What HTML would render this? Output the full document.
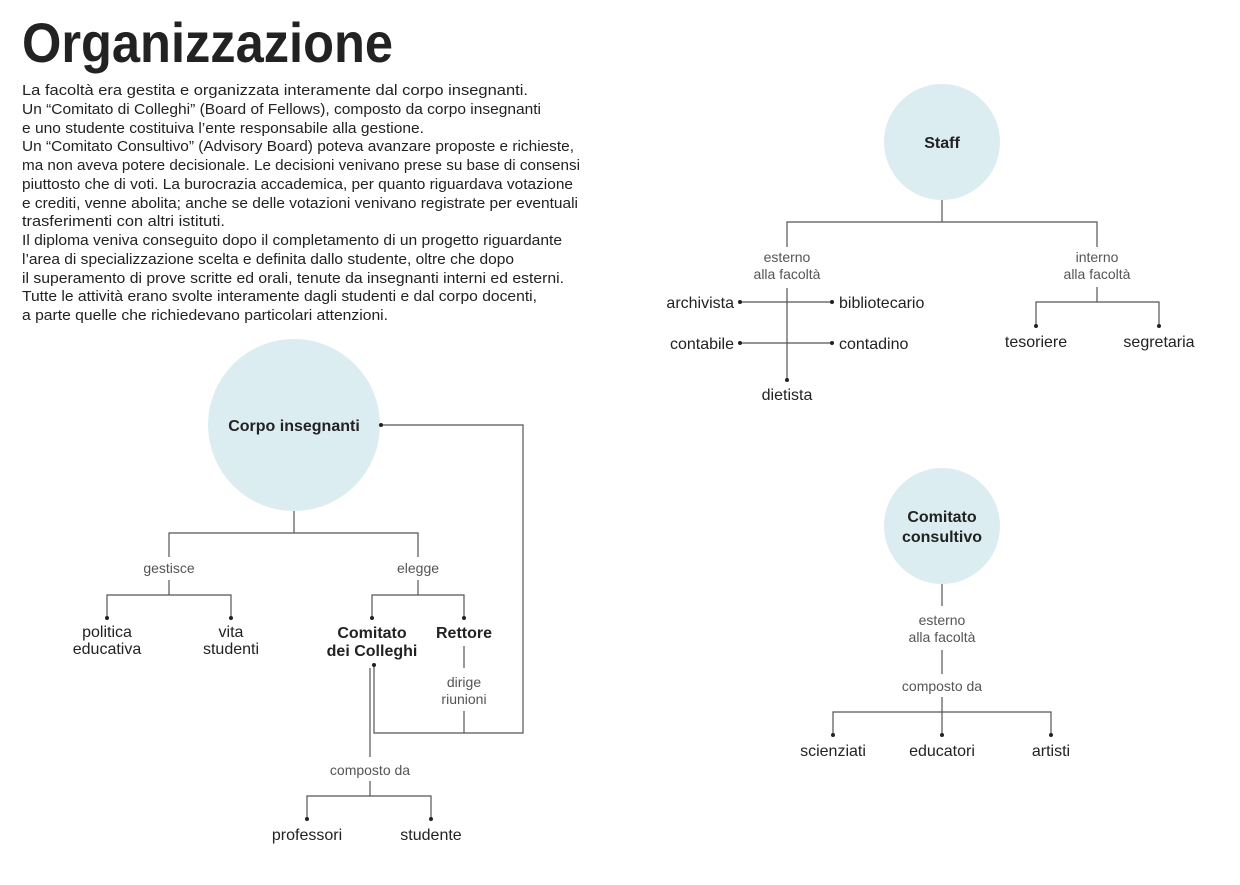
<!DOCTYPE html>
<html><head><meta charset="utf-8"><style>
html,body{margin:0;padding:0;background:#fff;}
svg{display:block;font-family:"Liberation Sans",sans-serif;}
.b{font-size:14.5px;fill:#222;}
.l{font-size:14px;fill:#555;text-anchor:middle;}
.n{font-size:16px;fill:#222;text-anchor:middle;}
.nb{font-size:16px;fill:#222;text-anchor:middle;font-weight:bold;}
line,polyline{stroke:#555;stroke-width:1.2;fill:none;}
circle.d{fill:#222;}
circle.c{fill:#dcedf2;}
</style></head><body>
<svg width="1240" height="885" viewBox="0 0 1240 885">
<text x="22" y="62" font-size="56" font-weight="bold" fill="#222" textLength="371" lengthAdjust="spacingAndGlyphs">Organizzazione</text>
<g class="b">
<text x="22" y="95" textLength="506" lengthAdjust="spacingAndGlyphs">La facoltà era gestita e organizzata interamente dal corpo insegnanti.</text>
<text x="22" y="114" textLength="519" lengthAdjust="spacingAndGlyphs">Un “Comitato di Colleghi” (Board of Fellows), composto da corpo insegnanti</text>
<text x="22" y="133" textLength="402" lengthAdjust="spacingAndGlyphs">e uno studente costituiva l’ente responsabile alla gestione.</text>
<text x="22" y="151" textLength="552" lengthAdjust="spacingAndGlyphs">Un “Comitato Consultivo” (Advisory Board) poteva avanzare proposte e richieste,</text>
<text x="22" y="170" textLength="558" lengthAdjust="spacingAndGlyphs">ma non aveva potere decisionale. Le decisioni venivano prese su base di consensi</text>
<text x="22" y="189" textLength="551" lengthAdjust="spacingAndGlyphs">piuttosto che di voti. La burocrazia accademica, per quanto riguardava votazione</text>
<text x="22" y="208" textLength="556" lengthAdjust="spacingAndGlyphs">e crediti, venne abolita; anche se delle votazioni venivano registrate per eventuali</text>
<text x="22" y="226" textLength="203" lengthAdjust="spacingAndGlyphs">trasferimenti con altri istituti.</text>
<text x="22" y="245" textLength="540" lengthAdjust="spacingAndGlyphs">Il diploma veniva conseguito dopo il completamento di un progetto riguardante</text>
<text x="22" y="264" textLength="492" lengthAdjust="spacingAndGlyphs">l’area di specializzazione scelta e definita dallo studente, oltre che dopo</text>
<text x="22" y="283" textLength="542" lengthAdjust="spacingAndGlyphs">il superamento di prove scritte ed orali, tenute da insegnanti interni ed esterni.</text>
<text x="22" y="301" textLength="515" lengthAdjust="spacingAndGlyphs">Tutte le attività erano svolte interamente dagli studenti e dal corpo docenti,</text>
<text x="22" y="320" textLength="366" lengthAdjust="spacingAndGlyphs">a parte quelle che richiedevano particolari attenzioni.</text>
</g>

<!-- Left diagram -->
<circle class="c" cx="294" cy="425" r="86"/>
<text class="nb" x="294" y="431">Corpo insegnanti</text>
<line x1="294" y1="511" x2="294" y2="533"/>
<polyline points="169,557 169,533 418,533 418,557"/>
<text class="l" x="169" y="573">gestisce</text>
<text class="l" x="418" y="573">elegge</text>
<line x1="169" y1="580" x2="169" y2="595"/>
<polyline points="107,618 107,595 231,595 231,618"/>
<circle class="d" cx="107" cy="618" r="2"/><circle class="d" cx="231" cy="618" r="2"/>
<text class="n" x="107" y="637">politica</text><text class="n" x="107" y="654">educativa</text>
<text class="n" x="231" y="637">vita</text><text class="n" x="231" y="654">studenti</text>
<line x1="418" y1="580" x2="418" y2="595"/>
<polyline points="372,618 372,595 464,595 464,618"/>
<circle class="d" cx="372" cy="618" r="2"/><circle class="d" cx="464" cy="618" r="2"/>
<text class="nb" x="372" y="638">Comitato</text><text class="nb" x="372" y="656">dei Colleghi</text>
<text class="nb" x="464" y="638">Rettore</text>
<line x1="464" y1="646" x2="464" y2="668"/>
<text class="l" x="464" y="687">dirige</text><text class="l" x="464" y="704">riunioni</text>
<line x1="464" y1="711" x2="464" y2="733"/>
<polyline points="374,665 374,733 523,733 523,425 381,425"/>
<circle class="d" cx="374" cy="665" r="2"/><circle class="d" cx="381" cy="425" r="2"/>
<line x1="370" y1="668" x2="370" y2="757"/>
<text class="l" x="370" y="775">composto da</text>
<line x1="370" y1="781" x2="370" y2="796"/>
<polyline points="307,819 307,796 431,796 431,819"/>
<circle class="d" cx="307" cy="819" r="2"/><circle class="d" cx="431" cy="819" r="2"/>
<text class="n" x="307" y="840">professori</text><text class="n" x="431" y="840">studente</text>

<!-- Staff -->
<circle class="c" cx="942" cy="142" r="58"/>
<text class="nb" x="942" y="148">Staff</text>
<line x1="942" y1="200" x2="942" y2="222"/>
<polyline points="787,247 787,222 1097,222 1097,247"/>
<text class="l" x="787" y="262">esterno</text><text class="l" x="787" y="279">alla facoltà</text>
<text class="l" x="1097" y="262">interno</text><text class="l" x="1097" y="279">alla facoltà</text>
<line x1="787" y1="288" x2="787" y2="380"/>
<circle class="d" cx="787" cy="380" r="2"/>
<line x1="740" y1="302" x2="832" y2="302"/><line x1="740" y1="343" x2="832" y2="343"/>
<circle class="d" cx="740" cy="302" r="2"/><circle class="d" cx="832" cy="302" r="2"/>
<circle class="d" cx="740" cy="343" r="2"/><circle class="d" cx="832" cy="343" r="2"/>
<text class="n" x="734" y="308" style="text-anchor:end">archivista</text>
<text class="n" x="839" y="308" style="text-anchor:start">bibliotecario</text>
<text class="n" x="734" y="349" style="text-anchor:end">contabile</text>
<text class="n" x="839" y="349" style="text-anchor:start">contadino</text>
<text class="n" x="787" y="400">dietista</text>
<line x1="1097" y1="287" x2="1097" y2="302"/>
<polyline points="1036,326 1036,302 1159,302 1159,326"/>
<circle class="d" cx="1036" cy="326" r="2"/><circle class="d" cx="1159" cy="326" r="2"/>
<text class="n" x="1036" y="347">tesoriere</text><text class="n" x="1159" y="347">segretaria</text>

<!-- Comitato consultivo -->
<circle class="c" cx="942" cy="526" r="58"/>
<text class="nb" x="942" y="522">Comitato</text><text class="nb" x="942" y="542">consultivo</text>
<line x1="942" y1="584" x2="942" y2="606"/>
<text class="l" x="942" y="625">esterno</text><text class="l" x="942" y="642">alla facoltà</text>
<line x1="942" y1="650" x2="942" y2="674"/>
<text class="l" x="942" y="691">composto da</text>
<line x1="942" y1="697" x2="942" y2="712"/>
<polyline points="833,735 833,712 1051,712 1051,735"/>
<line x1="942" y1="712" x2="942" y2="735"/>
<circle class="d" cx="833" cy="735" r="2"/><circle class="d" cx="942" cy="735" r="2"/><circle class="d" cx="1051" cy="735" r="2"/>
<text class="n" x="833" y="756">scienziati</text><text class="n" x="942" y="756">educatori</text><text class="n" x="1051" y="756">artisti</text>
</svg>
</body></html>
